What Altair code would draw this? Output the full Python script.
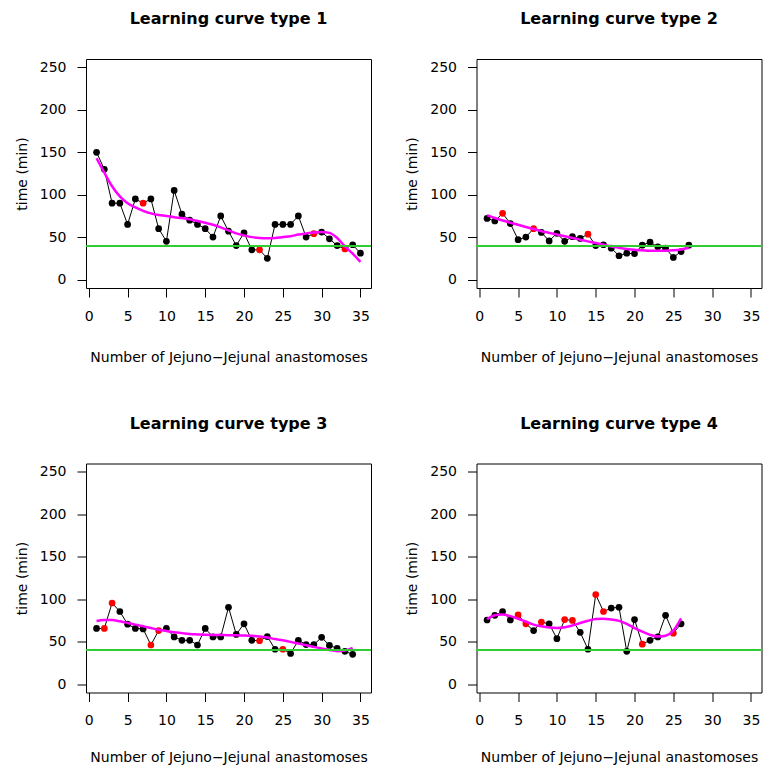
import altair as alt
import pandas as pd

# ---- data ----
y1 = [150, 130, 90, 90, 65, 95, 90, 95, 60, 45, 105, 77, 70, 65, 60, 50, 75, 57, 40, 55,
      35, 35, 25, 65, 65, 65, 75, 50, 54, 56, 48, 40, 36, 41, 31]
red1 = [7, 22, 29, 33]
fit1 = [143, 126, 110, 98, 90, 85, 81, 78, 76, 75, 73.5, 72.4, 71, 69, 67, 64.5, 61.5, 58,
        54.4, 52, 50, 49, 48.8, 49, 50, 51, 53, 54.4, 55.5, 56, 55, 49, 39, 30.5, 20.7]

y2 = [72, 69, 78, 66, 47, 50, 60, 55.5, 45.5, 54.5, 45, 50.5, 48.5, 53.5, 40, 41, 37, 28,
      31, 30.5, 40.5, 44, 38.5, 37, 26, 33, 40.5]
red2 = [3, 7, 14]
fit2 = [76, 72.5, 69.5, 67, 64.5, 62, 59.5, 57, 55, 53, 51, 49, 47, 45, 43, 41, 39, 37.5,
        36, 35, 34.5, 34, 34, 34, 34.5, 35.5, 37.5]

y3 = [65.5, 65.5, 95.5, 85.5, 70.5, 65.5, 65, 46, 63, 65.5, 55.5, 51.5, 51.5, 46, 65.5,
      55.5, 55.5, 90.5, 58.5, 71, 51.5, 51, 56, 41, 41, 36, 51.5, 46.5, 46.5, 55, 45.5, 42,
      38.5, 35]
red3 = [2, 3, 8, 9, 22, 25]
fit3 = [74.3, 75.5, 75.4, 74, 72, 70, 68, 66, 64, 62.5, 61, 60, 59, 58.5, 58, 57.8, 57.7,
        57.6, 57.4, 57.2, 56.8, 56, 54.8, 53, 51.5, 49.7, 47.7, 45.8, 43.8, 42, 40.2, 38.7,
        39.5, 42.6]

y4 = [75.5, 81, 85.5, 75.5, 81.5, 71, 63, 73, 71, 53.5, 76, 75, 61, 41, 105.5, 85.5, 89.5,
      90.5, 38.5, 76, 47, 51.5, 55.5, 81, 60, 71]
red4 = [5, 6, 8, 11, 12, 15, 16, 21, 25]
fit4 = [76.3, 81, 82, 80, 77, 73.5, 70, 68, 66.5, 66, 67, 69, 72, 74.5, 76.7, 77, 76, 74.5,
        71, 66, 61.8, 58, 56, 57, 63, 77.5]

titles = ["Learning curve type 1", "Learning curve type 2",
          "Learning curve type 3", "Learning curve type 4"]
x_ticks = [0, 5, 10, 15, 20, 25, 30, 35]
y_ticks = [0, 50, 100, 150, 200, 250]
threshold = 40

FONT = "DejaVu Sans"
W, H = 285, 229


def panel(vals, reds, fit, title, xtitle_y):
    n = len(vals)
    df = pd.DataFrame({
        "n": list(range(1, n + 1)),
        "t": vals,
        "c": ["red" if i in reds else "black" for i in range(1, n + 1)],
    })
    dfit = pd.DataFrame({"n": list(range(1, len(fit) + 1)), "f": fit})

    xs = alt.Scale(domain=[-0.36, 36.36], nice=False, zero=False)
    ys = alt.Scale(domain=[-10, 260], nice=False, zero=False)
    xax = alt.Axis(values=x_ticks, title="Number of Jejuno\u2212Jejunal anastomoses",
                   grid=False, domain=False, tickSize=9, tickColor="black",
                   labelColor="black", labelFont=FONT, labelFontSize=14, labelPadding=12,
                   titleFont=FONT, titleFontSize=14, titleFontWeight="normal",
                   titleColor="black", titleBaseline="alphabetic", titleY=xtitle_y,
                   titleX=W / 2, labelFlush=False, labelOverlap=False)
    yax = alt.Axis(values=y_ticks, title="time (min)", grid=False, domain=False,
                   tickSize=9, tickColor="black", labelColor="black", labelFont=FONT,
                   labelFontSize=14, labelPadding=11, labelAngle=0,
                   titleFont=FONT, titleFontSize=14, titleFontWeight="normal",
                   titleColor="black", titleBaseline="alphabetic", titleX=-60,
                   titleY=H / 2, titleAngle=270, titleAlign="center",
                   labelFlush=False, labelOverlap=False)

    base = alt.Chart(df)
    conn = base.mark_line(color="black", strokeWidth=1).encode(
        x=alt.X("n:Q", scale=xs, axis=xax), y=alt.Y("t:Q", scale=ys, axis=yax))
    pts = base.mark_circle(size=45, opacity=1).encode(
        x=alt.X("n:Q", scale=xs), y=alt.Y("t:Q", scale=ys),
        color=alt.Color("c:N", scale=None))
    curve = alt.Chart(dfit).mark_line(color="#FF00FF", strokeWidth=2.5,
                                      interpolate="monotone").encode(
        x=alt.X("n:Q", scale=xs), y=alt.Y("f:Q", scale=ys))
    green = alt.Chart(dfit).mark_rule(color="#33CC33", strokeWidth=1.3).encode(
        y=alt.datum(threshold, scale=ys))
    return alt.layer(conn, pts, curve, green).properties(
        width=W, height=H,
        title=alt.TitleParams(title, font=FONT, fontSize=16, fontWeight="bold",
                              color="black", baseline="alphabetic", offset=18.6,
                              anchor="middle"))


p1 = panel(y1, red1, fit1, titles[0], 73)
p2 = panel(y2, red2, fit2, titles[1], 73)
p3 = panel(y3, red3, fit3, titles[2], 69)
p4 = panel(y4, red4, fit4, titles[3], 69)

chart = alt.concat(p1, p2, p3, p4, columns=2,
                   spacing=alt.RowColnumber(row=175.5, column=105.5),
                   bounds="flush").properties(
    padding={"left": 6, "top": 2, "right": 0, "bottom": 0},
    background="white",
).configure_view(stroke="black", strokeWidth=1)

chart.save("out.html", embed_options={"renderer": "svg", "actions": False})
